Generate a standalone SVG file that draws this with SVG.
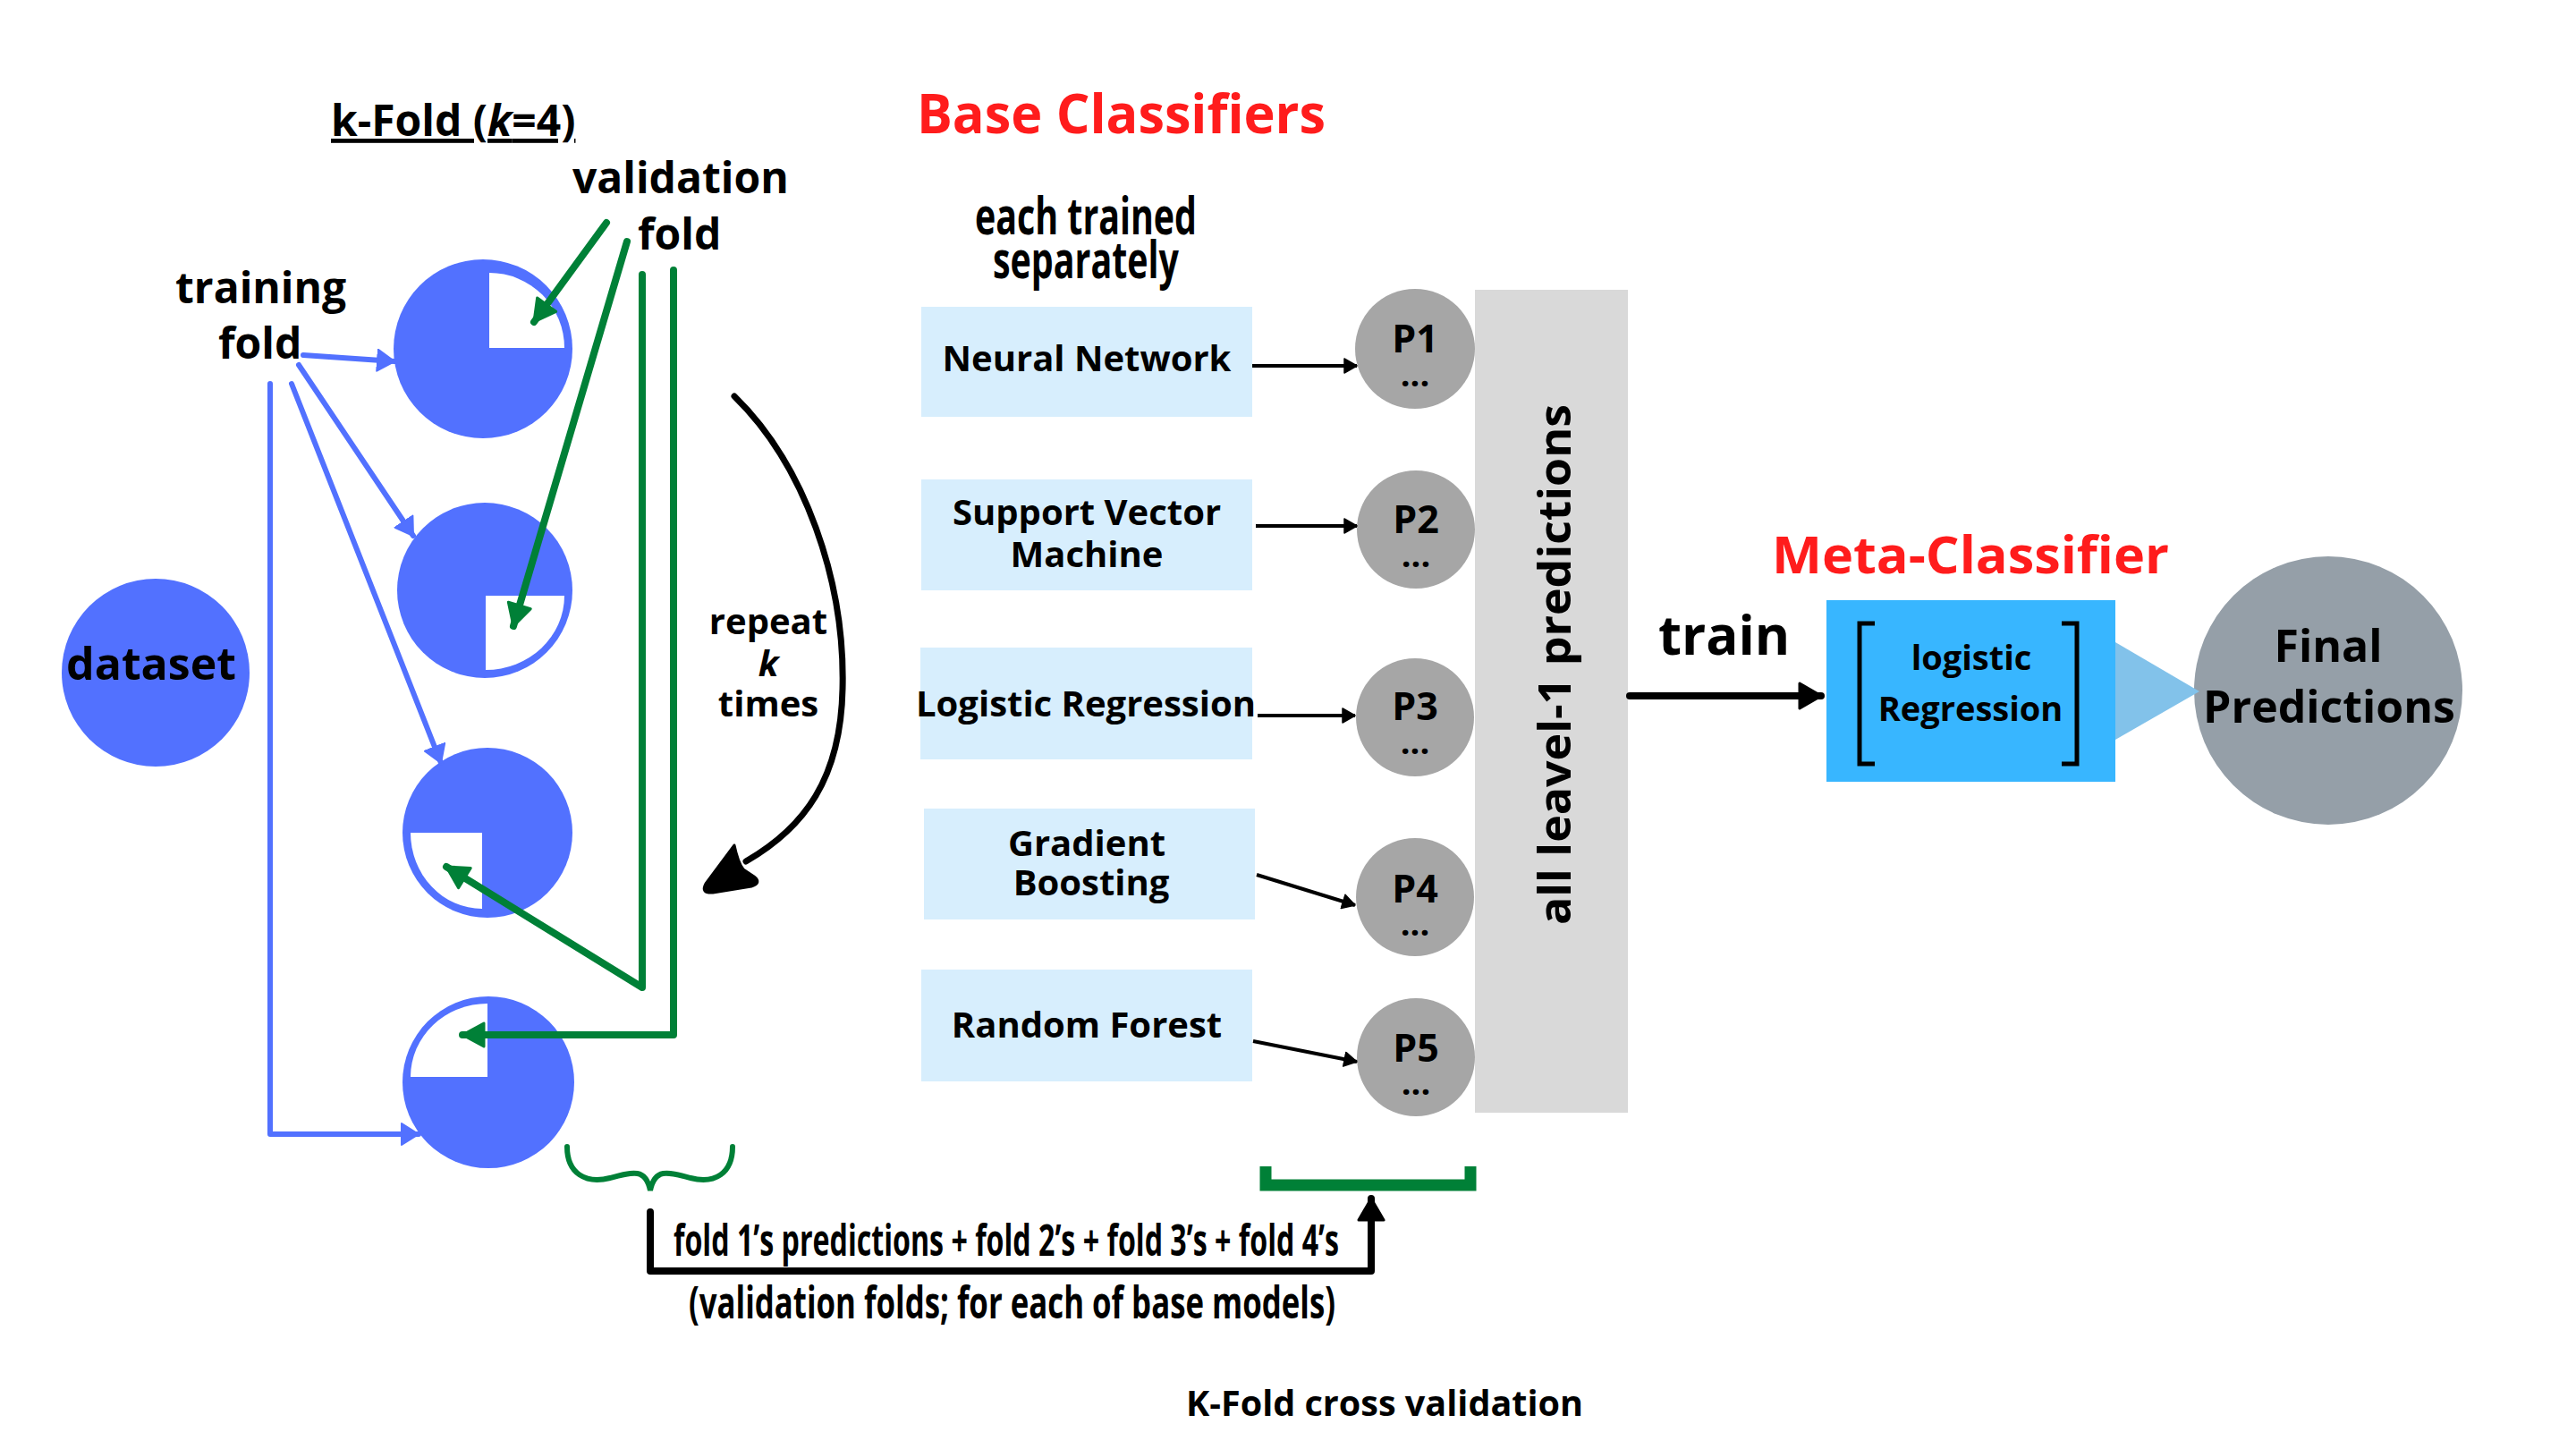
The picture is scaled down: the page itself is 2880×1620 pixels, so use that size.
<svg xmlns="http://www.w3.org/2000/svg" width="2880" height="1620" viewBox="0 0 2880 1620">
<style>
text{font-family:'Open Sans','Liberation Sans',sans-serif;font-weight:700;fill:#000}
.red{fill:#ff1c1c}
.cond{font-family:'Liberation Sans Narrow','Open Sans',sans-serif;font-weight:700}
.mid{text-anchor:middle}
.fold{fill:#5271ff}
.cut{fill:#fff}
.box{fill:#d7eefd}
.pc{fill:#a6a6a6}
.bl{stroke:#5271ff;stroke-width:6;fill:none;stroke-linecap:round;stroke-linejoin:round}
.gr{stroke:#008037;stroke-width:8;fill:none;stroke-linecap:round;stroke-linejoin:round}
.bk{stroke:#000;stroke-width:4;fill:none}
</style>
<defs>
<marker id="mb" markerUnits="userSpaceOnUse" viewBox="0 0 22 26" refX="20" refY="13" markerWidth="22" markerHeight="26" orient="auto"><path d="M1,1 L20,13 L1,25 z" fill="#5271ff" stroke="#5271ff" stroke-width="2" stroke-linejoin="round"/></marker>
<marker id="mg" markerUnits="userSpaceOnUse" viewBox="0 0 28 30" refX="26" refY="15" markerWidth="28" markerHeight="30" orient="auto"><path d="M2,2 L26,15 L2,28 z" fill="#008037" stroke="#008037" stroke-width="3" stroke-linejoin="round"/></marker>
<marker id="mk" markerUnits="userSpaceOnUse" viewBox="0 0 16 18" refX="15" refY="9" markerWidth="16" markerHeight="18" orient="auto"><path d="M1,1 L15,9 L1,17 z" fill="#000" stroke="#000" stroke-width="1.5" stroke-linejoin="round"/></marker>
<marker id="mk2" markerUnits="userSpaceOnUse" viewBox="0 0 28 32" refX="26" refY="16" markerWidth="28" markerHeight="32" orient="auto"><path d="M2,2 L26,16 L2,30 z" fill="#000" stroke="#000" stroke-width="3" stroke-linejoin="round"/></marker>
</defs>
<rect width="2880" height="1620" fill="#fff"/>

<g id="titles">
<text x="370" y="152" font-size="48" text-decoration="underline">k-Fold (<tspan font-style="italic">k</tspan>=4)</text>
<text class="red" x="1025" y="149" font-size="60" textLength="457" lengthAdjust="spacingAndGlyphs">Base Classifiers</text>
<text class="cond mid" x="1214" y="262" font-size="58" textLength="248" lengthAdjust="spacingAndGlyphs">each trained</text>
<text class="cond mid" x="1214" y="311" font-size="58" textLength="208" lengthAdjust="spacingAndGlyphs">separately</text>
<text class="red" x="1981" y="641" font-size="58" textLength="444" lengthAdjust="spacingAndGlyphs">Meta-Classifier</text>
<text x="1326" y="1583" font-size="39" textLength="444" lengthAdjust="spacingAndGlyphs">K-Fold cross validation</text>
</g>

<g id="labels">
<text x="640" y="216" font-size="48">validation</text>
<text x="713" y="279" font-size="48">fold</text>
<text x="196" y="339" font-size="48">training</text>
<text x="244" y="401" font-size="48">fold</text>
<text class="mid" x="859" y="709" font-size="40">repeat</text>
<text class="mid" x="859" y="756" font-size="40" font-style="italic">k</text>
<text class="mid" x="859" y="801" font-size="40">times</text>
<text x="1854" y="732" font-size="60">train</text>
<text class="cond" x="753" y="1404" font-size="48" textLength="744" lengthAdjust="spacingAndGlyphs">fold 1’s predictions + fold 2’s + fold 3’s + fold 4’s</text>
<text class="cond" x="770" y="1474" font-size="50" textLength="723" lengthAdjust="spacingAndGlyphs">(validation folds; for each of base models)</text>
</g>

<g id="dataset">
<circle class="fold" cx="174" cy="752" r="105"/>
<text class="mid" x="169" y="760" font-size="50">dataset</text>
</g>

<g id="fold1">
<circle class="fold" cx="540" cy="390" r="100"/>
<path class="cut" d="M547,389 V305 A84,84 0 0 1 631,389 Z"/>
</g>
<g id="fold2">
<circle class="fold" cx="542" cy="660" r="98"/>
<path class="cut" d="M543,666 H631 A88,83 0 0 1 543,749 Z"/>
</g>
<g id="fold3">
<circle class="fold" cx="545" cy="931" r="95"/>
<path class="cut" d="M539,931 V1016 A80,85 0 0 1 459,931 Z"/>
</g>
<g id="fold4">
<circle class="fold" cx="546" cy="1210" r="96"/>
<path class="cut" d="M545,1204 H459 A86,82 0 0 1 545,1122 Z"/>
</g>

<g id="base-classifiers">
<g id="nn"><rect class="box" x="1030" y="343" width="370" height="123"/><text class="mid" x="1215" y="415" font-size="40">Neural Network</text></g>
<g id="svm"><rect class="box" x="1030" y="536" width="370" height="124"/><text class="mid" x="1215" y="587" font-size="40">Support Vector</text><text class="mid" x="1215" y="634" font-size="40">Machine</text></g>
<g id="lr"><rect class="box" x="1029" y="724" width="371" height="125"/><text class="mid" x="1214" y="801" font-size="40">Logistic Regression</text></g>
<g id="gb"><rect class="box" x="1033" y="904" width="370" height="124"/><text class="mid" x="1215" y="957" font-size="40">Gradient</text><text class="mid" x="1220" y="1001" font-size="40">Boosting</text></g>
<g id="rf"><rect class="box" x="1030" y="1084" width="370" height="125"/><text class="mid" x="1215" y="1160" font-size="40">Random Forest</text></g>
</g>

<g id="predictions-bar">
<rect x="1649" y="324" width="171" height="920" fill="#d9d9d9"/>
<text class="mid" transform="translate(1756,743) rotate(-90)" font-size="50" textLength="582" lengthAdjust="spacingAndGlyphs">all leavel-1 predictions</text>
</g>

<g id="p1"><circle class="pc" cx="1582" cy="390" r="67"/><text class="mid" x="1582" y="394" font-size="43">P1</text><text class="mid" x="1582" y="432" font-size="38">...</text></g>
<g id="p2"><circle class="pc" cx="1583" cy="592" r="66"/><text class="mid" x="1583" y="596" font-size="43">P2</text><text class="mid" x="1583" y="634" font-size="38">...</text></g>
<g id="p3"><circle class="pc" cx="1582" cy="802" r="66"/><text class="mid" x="1582" y="805" font-size="43">P3</text><text class="mid" x="1582" y="843" font-size="38">...</text></g>
<g id="p4"><circle class="pc" cx="1582" cy="1003" r="66"/><text class="mid" x="1582" y="1009" font-size="43">P4</text><text class="mid" x="1582" y="1046" font-size="38">...</text></g>
<g id="p5"><circle class="pc" cx="1583" cy="1182" r="66"/><text class="mid" x="1583" y="1187" font-size="43">P5</text><text class="mid" x="1583" y="1224" font-size="38">...</text></g>

<g id="meta-classifier">
<rect x="2042" y="671" width="323" height="203" fill="#38b6ff"/>
<path d="M2096,697 H2079 V854 H2096 M2305,697 H2322 V854 H2305" stroke="#000" stroke-width="5" fill="none"/>
<text class="mid" x="2204" y="749" font-size="38">logistic</text>
<text class="mid" x="2203" y="806" font-size="38">Regression</text>
</g>

<g id="final">
<circle cx="2603" cy="772" r="150" fill="#959fa8"/>
<polygon points="2365,718 2459,773 2365,827" fill="#82c2ea"/>
<text class="mid" x="2603" y="740" font-size="50">Final</text>
<text class="mid" x="2604" y="808" font-size="50">Predictions</text>
</g>

<g id="connectors">
<path class="bl" d="M339,397 L441,404" marker-end="url(#mb)"/>
<path class="bl" d="M334,408 L462,599" marker-end="url(#mb)"/>
<path class="bl" d="M326,429 L493,853" marker-end="url(#mb)"/>
<path class="bl" d="M302,429 V1268 H468" marker-end="url(#mb)"/>
<path class="gr" d="M678,249 L597,360" marker-end="url(#mg)"/>
<path class="gr" d="M701,270 L574,700" marker-end="url(#mg)"/>
<path class="gr" d="M718,307 V1104 L499,969" marker-end="url(#mg)"/>
<path class="gr" d="M753,302 V1157 H517" marker-end="url(#mg)"/>
<path d="M821,443 C900,520 945,650 942,770 C940,870 900,925 834,963" stroke="#000" stroke-width="7" fill="none" stroke-linecap="round"/>
<path d="M821,945 L789,988 Q783,999 797,998 L840,991 Q852,987 843,980 L831,972 Q825,964 821,945 Z" fill="#000" stroke="#000" stroke-width="3" stroke-linejoin="round"/>
<path class="bk" d="M1400,409 H1517" marker-end="url(#mk)"/>
<path class="bk" d="M1404,588 H1517" marker-end="url(#mk)"/>
<path class="bk" d="M1406,800 H1515" marker-end="url(#mk)"/>
<path class="bk" d="M1405,978 L1515,1012" marker-end="url(#mk)"/>
<path class="bk" d="M1401,1164 L1517,1187" marker-end="url(#mk)"/>
<path d="M1822,778 H2036" stroke="#000" stroke-width="8" fill="none" stroke-linecap="round" marker-end="url(#mk2)"/>
<path d="M634,1282 C634,1312 655,1324 682,1317 C708,1310 722,1306 727,1331 C732,1306 746,1310 772,1317 C799,1324 819,1312 819,1282" stroke="#008037" stroke-width="6" fill="none" stroke-linecap="round"/>
<path d="M727,1355 V1421 H1533 V1340" stroke="#000" stroke-width="8" fill="none" stroke-linecap="round" stroke-linejoin="round" marker-end="url(#mk2)"/>
<path d="M1415,1304 V1325 H1644 V1304" stroke="#008037" stroke-width="13" fill="none"/>
</g>
</svg>
